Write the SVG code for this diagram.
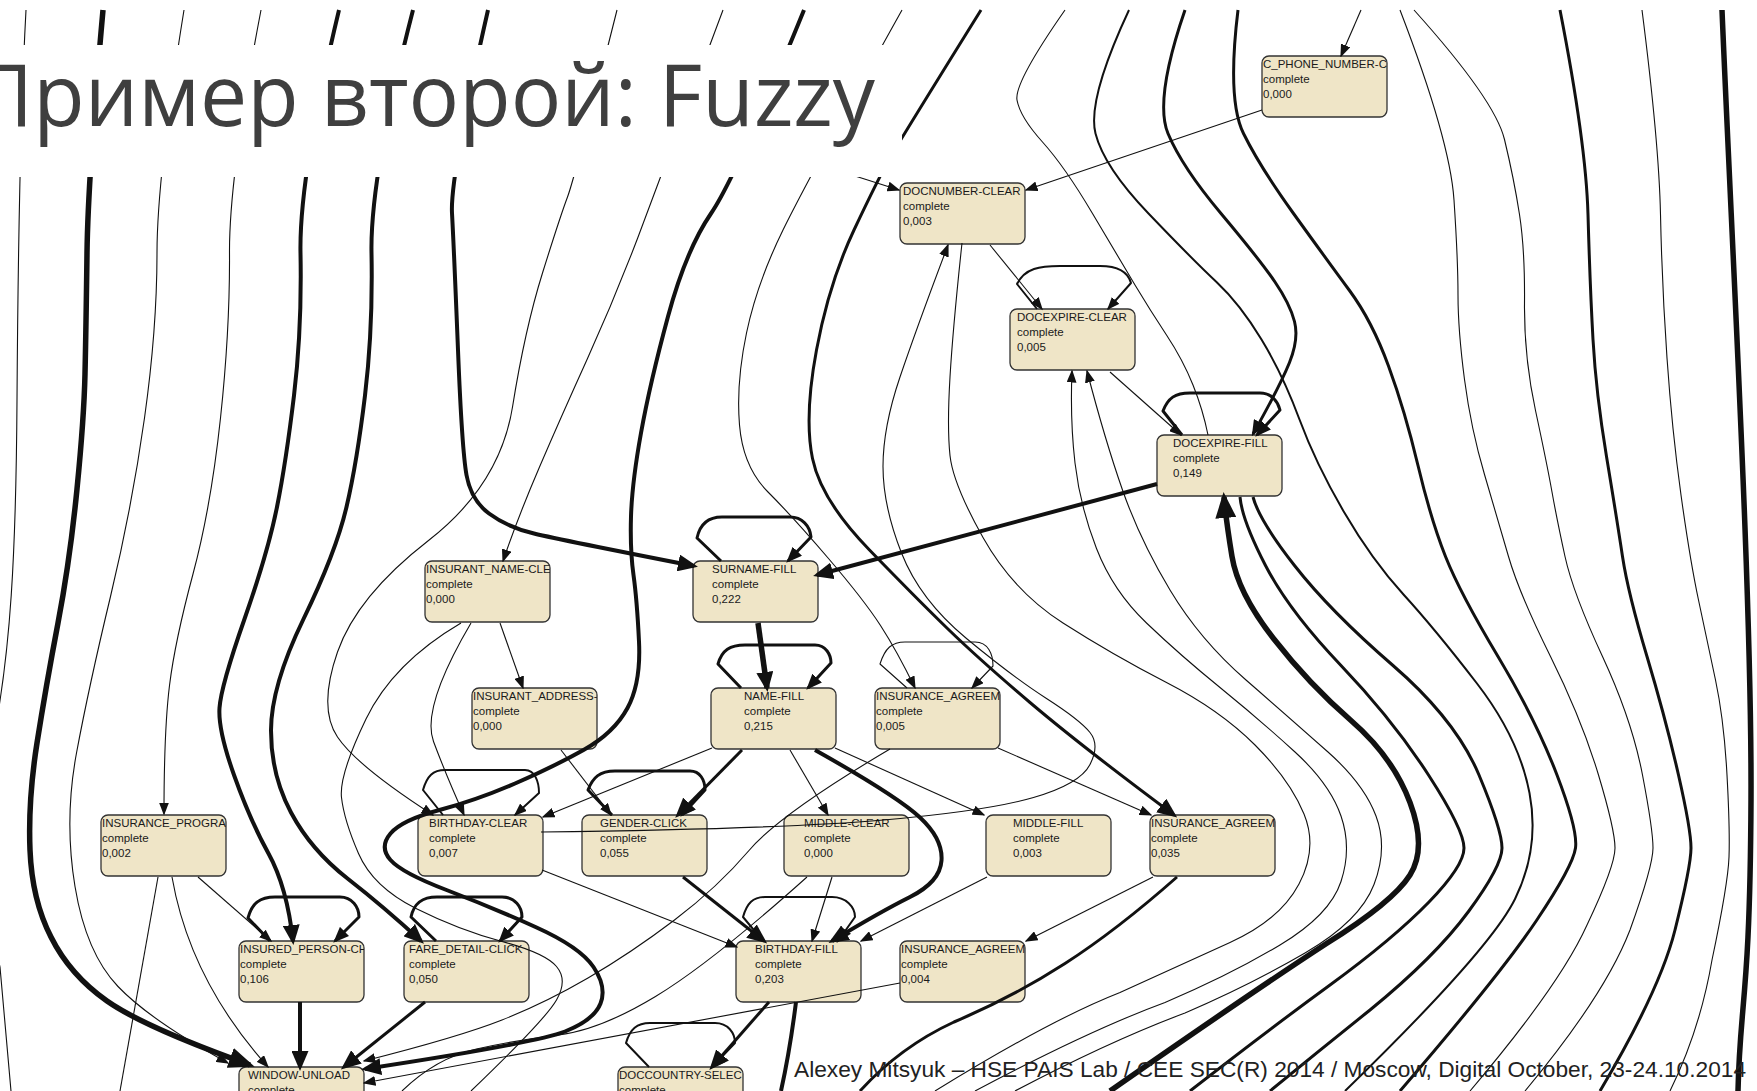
<svg xmlns="http://www.w3.org/2000/svg" width="1757" height="1091" viewBox="0 0 1757 1091">
<style>
  .node rect{fill:#efe5c7;stroke:#333;stroke-width:1.3}
  .node text{font-family:"Liberation Sans",Arial,sans-serif;font-size:11.5px;fill:#1a1a1a}
  .e{fill:none;stroke:#111;stroke-linejoin:round;stroke-linecap:butt}
  .w1{stroke-width:1.1}
  .w2{stroke-width:2}
  .w3{stroke-width:3}
  .w4{stroke-width:4}
  .w5{stroke-width:5.5}
  .s{marker-end:url(#a1)}
  .m{marker-end:url(#a2)}
  .l{marker-end:url(#a3)}
  .x{marker-end:url(#a4)}
  .title{font-family:"Open Sans","Liberation Sans",sans-serif;font-size:86px;fill:#3f3f3f}
  .foot{font-family:"Liberation Sans",Arial,sans-serif;font-size:22px;fill:#222}
</style>
<defs>
  <marker id="a1" markerUnits="userSpaceOnUse" markerWidth="13" markerHeight="10" refX="11.5" refY="5" orient="auto"><path d="M0,0 L13,5 L0,10 z" fill="#111"/></marker>
  <marker id="a2" markerUnits="userSpaceOnUse" markerWidth="16" markerHeight="13" refX="13.5" refY="6.5" orient="auto"><path d="M0,0 L16,6.5 L0,13 z" fill="#111"/></marker>
  <marker id="a3" markerUnits="userSpaceOnUse" markerWidth="20" markerHeight="17" refX="16" refY="8.5" orient="auto"><path d="M0,0 L20,8.5 L0,17 z" fill="#111"/></marker>
  <marker id="a4" markerUnits="userSpaceOnUse" markerWidth="26" markerHeight="21" refX="21" refY="10.5" orient="auto"><path d="M0,0 L26,10.5 L0,21 z" fill="#111"/></marker>
  <clipPath id="nodeclip"><rect x="0" y="0" width="125" height="61" rx="7"/></clipPath>
</defs>

<rect x="0" y="0" width="1757" height="1091" fill="#fff"/>

<!-- activity nodes -->
<g id="nodes">
  <g id="n-cpn" class="node" transform="translate(1262,56)"><rect width="125" height="61" rx="7"/><g clip-path="url(#nodeclip)"><text x="1" y="12">C_PHONE_NUMBER-C</text><text x="1" y="27">complete</text><text x="1" y="42">0,000</text></g></g>
  <g id="n-docnumber-clear" class="node" transform="translate(900,183)"><rect width="125" height="61" rx="7"/><g clip-path="url(#nodeclip)"><text x="3" y="12">DOCNUMBER-CLEAR</text><text x="3" y="27">complete</text><text x="3" y="42">0,003</text></g></g>
  <g id="n-docexpire-clear" class="node" transform="translate(1010,309)"><rect width="125" height="61" rx="7"/><g clip-path="url(#nodeclip)"><text x="7" y="12">DOCEXPIRE-CLEAR</text><text x="7" y="27">complete</text><text x="7" y="42">0,005</text></g></g>
  <g id="n-docexpire-fill" class="node" transform="translate(1157,435)"><rect width="125" height="61" rx="7"/><g clip-path="url(#nodeclip)"><text x="16" y="12">DOCEXPIRE-FILL</text><text x="16" y="27">complete</text><text x="16" y="42">0,149</text></g></g>
  <g id="n-insurant-name" class="node" transform="translate(425,561)"><rect width="125" height="61" rx="7"/><g clip-path="url(#nodeclip)"><text x="1" y="12">INSURANT_NAME-CLE</text><text x="1" y="27">complete</text><text x="1" y="42">0,000</text></g></g>
  <g id="n-surname-fill" class="node" transform="translate(693,561)"><rect width="125" height="61" rx="7"/><g clip-path="url(#nodeclip)"><text x="19" y="12">SURNAME-FILL</text><text x="19" y="27">complete</text><text x="19" y="42">0,222</text></g></g>
  <g id="n-insurant-address" class="node" transform="translate(472,688)"><rect width="125" height="61" rx="7"/><g clip-path="url(#nodeclip)"><text x="1" y="12">INSURANT_ADDRESS-</text><text x="1" y="27">complete</text><text x="1" y="42">0,000</text></g></g>
  <g id="n-name-fill" class="node" transform="translate(711,688)"><rect width="125" height="61" rx="7"/><g clip-path="url(#nodeclip)"><text x="33" y="12">NAME-FILL</text><text x="33" y="27">complete</text><text x="33" y="42">0,215</text></g></g>
  <g id="n-agreem-005" class="node" transform="translate(875,688)"><rect width="125" height="61" rx="7"/><g clip-path="url(#nodeclip)"><text x="1" y="12">INSURANCE_AGREEM</text><text x="1" y="27">complete</text><text x="1" y="42">0,005</text></g></g>
  <g id="n-insurance-progra" class="node" transform="translate(101,815)"><rect width="125" height="61" rx="7"/><g clip-path="url(#nodeclip)"><text x="1" y="12">INSURANCE_PROGRA</text><text x="1" y="27">complete</text><text x="1" y="42">0,002</text></g></g>
  <g id="n-birthday-clear" class="node" transform="translate(418,815)"><rect width="125" height="61" rx="7"/><g clip-path="url(#nodeclip)"><text x="11" y="12">BIRTHDAY-CLEAR</text><text x="11" y="27">complete</text><text x="11" y="42">0,007</text></g></g>
  <g id="n-gender-click" class="node" transform="translate(582,815)"><rect width="125" height="61" rx="7"/><g clip-path="url(#nodeclip)"><text x="18" y="12">GENDER-CLICK</text><text x="18" y="27">complete</text><text x="18" y="42">0,055</text></g></g>
  <g id="n-middle-clear" class="node" transform="translate(784,815)"><rect width="125" height="61" rx="7"/><g clip-path="url(#nodeclip)"><text x="20" y="12">MIDDLE-CLEAR</text><text x="20" y="27">complete</text><text x="20" y="42">0,000</text></g></g>
  <g id="n-middle-fill" class="node" transform="translate(986,815)"><rect width="125" height="61" rx="7"/><g clip-path="url(#nodeclip)"><text x="27" y="12">MIDDLE-FILL</text><text x="27" y="27">complete</text><text x="27" y="42">0,003</text></g></g>
  <g id="n-agreem-035" class="node" transform="translate(1150,815)"><rect width="125" height="61" rx="7"/><g clip-path="url(#nodeclip)"><text x="1" y="12">INSURANCE_AGREEM</text><text x="1" y="27">complete</text><text x="1" y="42">0,035</text></g></g>
  <g id="n-insured-person" class="node" transform="translate(239,941)"><rect width="125" height="61" rx="7"/><g clip-path="url(#nodeclip)"><text x="1" y="12">INSURED_PERSON-CH</text><text x="1" y="27">complete</text><text x="1" y="42">0,106</text></g></g>
  <g id="n-fare-detail" class="node" transform="translate(404,941)"><rect width="125" height="61" rx="7"/><g clip-path="url(#nodeclip)"><text x="5" y="12">FARE_DETAIL-CLICK</text><text x="5" y="27">complete</text><text x="5" y="42">0,050</text></g></g>
  <g id="n-birthday-fill" class="node" transform="translate(736,941)"><rect width="125" height="61" rx="7"/><g clip-path="url(#nodeclip)"><text x="19" y="12">BIRTHDAY-FILL</text><text x="19" y="27">complete</text><text x="19" y="42">0,203</text></g></g>
  <g id="n-agreem-004" class="node" transform="translate(900,941)"><rect width="125" height="61" rx="7"/><g clip-path="url(#nodeclip)"><text x="1" y="12">INSURANCE_AGREEM</text><text x="1" y="27">complete</text><text x="1" y="42">0,004</text></g></g>
  <g id="n-window-unload" class="node" transform="translate(239,1067)"><rect width="125" height="61" rx="7"/><g clip-path="url(#nodeclip)"><text x="9" y="12">WINDOW-UNLOAD</text><text x="9" y="27">complete</text></g></g>
  <g id="n-doccountry" class="node" transform="translate(618,1067)"><rect width="125" height="61" rx="7"/><g clip-path="url(#nodeclip)"><text x="1" y="12">DOCCOUNTRY-SELEC</text><text x="1" y="27">complete</text></g></g>
</g>

<!-- transitions -->
<g id="connectors">
  <!-- long edges entering from the top -->
  <path class="e w1" d="M26,10 C20,120 18,250 17,400 C16,560 10,650 -5,730 C-20,830 -15,900 0,967 L11,1091"/>
  <path class="e w5 x" d="M103,10 Q88,177 87,253 Q86,330 85,374 Q84,418 77,489 Q70,560 58,623 Q46,686 37,743 Q28,800 30,850 Q32,900 51,937 Q70,975 107,1001 Q144,1027 250,1065"/>
  <path class="e w1 s" d="M184,10 Q157,177 157,253 Q157,329 144.5,418 Q132,507 110.5,596.5 Q89,686 76.5,753 Q64,820 75,886.5 Q86,953 118,986.5 Q150,1020 228,1063"/>
  <path class="e w1 s" d="M261,10 Q229,177 229.5,253 Q230,329 220.5,418 Q211,507 193,574 Q175,641 169.5,685.5 Q164,730 164,814"/>
  <path class="e w4 l" d="M339,10 Q299,177 300.5,253 Q302,329 294,395.5 Q286,462 277,507 Q268,552 244.5,619 Q221,686 219.5,708 Q218,730 234,775 Q250,820 268.5,853.5 Q287,887 293,941"/>
  <path class="e w4 l" d="M413,10 Q370,177 371.5,253 Q373,329 365,395.5 Q357,462 346.5,507 Q336,552 303.5,619 Q271,686 271,730.5 Q271,775 291,812.5 Q311,850 347.5,878.5 Q384,907 421,941"/>
  <path class="e w4 l" d="M488,10 Q450,177 452,213 Q454,250 458,350 Q462,450 466.5,475 Q471,500 489,513.5 Q507,527 534,533.5 Q561,540 694,566"/>
  <path class="e w1 s" d="M617,10 Q575,177 567.5,197 Q560,217 542.5,273 Q525,329 512.5,407 Q500,485 428.5,540.5 Q357,596 337.5,652 Q318,708 337.5,737 Q357,766 433,815"/>
  <path class="e w1 s" d="M723,10 Q661,177 637.5,238.5 Q614,300 587.5,358.5 Q561,417 539.5,467 Q518,517 503,561"/>
  <path class="e w4 l" d="M804,10 Q736,177 711,213.5 Q686,250 668,316.5 Q650,383 641,433 Q632,483 631,516.5 Q630,550 633.5,575 Q637,600 639,641.5 Q641,683 627.5,708 Q614,733 583.5,750 Q553,767 515,783.5 Q477,800 439.5,810 Q402,820 390.5,833.5 Q379,847 390.5,860 Q402,873 446.5,890 Q491,907 535.5,927 Q580,947 593.5,967 Q607,987 600.5,1003.5 Q594,1020 565,1031.5 Q536,1043 365,1069"/>
  <path class="e w1 s" d="M902,10 Q809,177 783,230 Q757,283 746.5,333 Q736,383 739.5,425 Q743,467 768,492 Q793,517 828.5,558.5 Q864,600 880.5,625.5 Q897,651 915,688"/>
  <path class="e w3 l" d="M981,10 Q902,137 890.5,157 Q879,177 854,230 Q829,283 816.5,350 Q804,417 812.5,458.5 Q821,500 869.5,550 Q918,600 949,630 Q980,660 1030,702.5 Q1080,745 1174,815"/>
  <path class="e w1 s" d="M830,168 L899,190"/>
  <path class="e w1" d="M1208,435 Q1203,410 1193,385 Q1183,360 1166.5,335 Q1150,310 1135,285 Q1120,260 1092.5,213.5 Q1065,167 1042.5,142 Q1020,117 1017,100 Q1014,83 1065,10"/>
  <path class="e w1 s" d="M1361,10 L1341,56"/>
  <path class="e w1 s" d="M1262,110 L1026,190"/>

  <!-- right-hand bundle -->
  <path class="e w2" d="M1129,10 Q1087,100 1095.5,133.5 Q1104,167 1148.5,213.5 Q1193,260 1216.5,282 Q1240,304 1261.5,339.5 Q1283,375 1299.5,419.5 Q1316,464 1344,512 Q1372,560 1403.5,594.5 Q1435,629 1477,683.5 Q1519,738 1529.5,793 Q1540,848 1515,899 Q1490,950 1345,1091"/>
  <path class="e w3 m" d="M1185,10 Q1154,100 1168,133.5 Q1182,167 1221,213.5 Q1260,260 1275,282 Q1290,304 1294.5,321.5 Q1299,339 1289.5,362.5 Q1280,386 1253,434"/>
  <path class="e w3" d="M1238,10 Q1227,100 1243.5,133.5 Q1260,167 1293.5,213.5 Q1327,260 1349.5,290.5 Q1372,321 1388.5,366 Q1405,411 1418,465.5 Q1431,520 1445.5,556.5 Q1460,593 1498,656.5 Q1536,720 1557,775 Q1578,830 1575.5,848 Q1573,866 1536.5,920.5 Q1500,975 1400,1091"/>
  <path class="e w1" d="M1400,10 Q1450,140 1454,200 Q1458,260 1458,295 Q1458,330 1464.5,379.5 Q1471,429 1484.5,474.5 Q1498,520 1508.5,556.5 Q1519,593 1550.5,656.5 Q1582,720 1598.5,775 Q1615,830 1615,848 Q1615,866 1587,925 Q1560,985 1470,1091"/>
  <path class="e w1" d="M1414,10 Q1495,100 1504.5,139.5 Q1514,179 1519.5,214.5 Q1525,250 1524.5,303.5 Q1524,357 1535.5,410.5 Q1547,464 1552,492 Q1557,520 1565,556.5 Q1573,593 1602.5,656.5 Q1632,720 1642.5,775 Q1653,830 1653,848 Q1653,866 1630,930 Q1605,995 1525,1091"/>
  <path class="e w3" d="M1560,10 Q1586,143 1588,214.5 Q1590,286 1593,339.5 Q1596,393 1606.5,456.5 Q1617,520 1622.5,556.5 Q1628,593 1647,656.5 Q1666,720 1678.5,775 Q1691,830 1691,848 Q1691,866 1675,930 Q1660,990 1600,1091"/>
  <path class="e w1" d="M1642,10 Q1659,143 1660.5,214.5 Q1662,286 1667,358 Q1672,430 1681,495 Q1690,560 1698.5,600 Q1707,640 1715.5,680 Q1724,720 1727,775 Q1730,830 1729,857 Q1728,884 1712,960 Q1700,1030 1670,1091"/>
  <path class="e w5" d="M1722,10 C1732,250 1752,600 1751,800 S1740,1000 1738,1091"/>
  <path class="e w5 x" d="M1110,1091 Q1255,990 1326.5,943.5 Q1393,902 1410,875 Q1427,848 1410,802.5 Q1393,757 1351,720.5 Q1309,684 1273.5,638.5 Q1238,593 1232,556.5 Q1226,520 1224,497"/>
  <path class="e w3" d="M1240,497 Q1242,520 1265.5,565.5 Q1289,611 1341,665.5 Q1393,720 1428.5,775 Q1464,830 1464,848 Q1464,866 1428.5,902.5 Q1393,939 1330,985 Q1267,1031 1190,1091"/>
  <path class="e w3" d="M1253,497 Q1259,520 1294.5,565.5 Q1330,611 1393,665.5 Q1456,720 1479,775 Q1502,830 1502,848 Q1502,866 1468.5,911.5 Q1435,957 1370,1010 Q1320,1050 1270,1091"/>
  <path class="e w1" d="M962,243 Q953,327 950,377 Q947,427 950,455.5 Q953,484 983,537.5 Q1013,591 1063,623 Q1113,655 1166.5,682.5 Q1220,710 1255,745 Q1290,780 1304,814 Q1318,848 1299,884 Q1280,920 1230,942.5 Q1180,965 1120,992.5 Q1050,1020 935,1091"/>
  <path class="e w1 s" d="M975,1091 Q1090,1030 1165,1002.5 Q1230,975 1280,945 Q1330,915 1341,881.5 Q1352,848 1341,816 Q1330,784 1295,752 Q1260,720 1220,687.5 Q1180,655 1146.5,623 Q1113,591 1096.5,548.5 Q1080,506 1075,463 Q1070,420 1072,371"/>
  <path class="e w1 s" d="M1015,1091 Q1110,1041 1185,1013 Q1250,985 1305,953 Q1360,921 1374,884.5 Q1388,848 1376,816 Q1364,784 1328,752 Q1292,720 1246,680 Q1200,640 1170,590 Q1140,540 1122.5,490 Q1105,440 1087,371"/>
  <path class="e w1 s" d="M541,832 Q780,829 883.5,820 Q987,811 1033.5,797.5 Q1080,784 1090,764.5 Q1100,745 1090,732.5 Q1080,720 1046.5,698.5 Q1013,677 966.5,638.5 Q920,600 901.5,553 Q883,506 883,466.5 Q883,427 900,377 Q917,327 948,245"/>

  <!-- document block -->
  <path class="e w1 s" d="M990,245 L1042,309"/>
  <path class="e w2 s" d="M1037,309 L1017,284 C1025,268 1040,266 1060,266 L1100,266 C1118,266 1128,272 1131,283 L1108,309"/>
  <path class="e w1 s" d="M1110,372 L1181,435"/>
  <path class="e w3 m" d="M1182,435 L1163,411 C1168,398 1175,393 1190,393 L1260,393 C1272,393 1278,402 1280,410 L1257,435"/>
  <path class="e w4 l" d="M1157,484 L817,575"/>

  <!-- personal data block -->
  <path class="e w3 m" d="M721,561 L697,538 C700,524 708,517 722,517 L790,517 C802,517 810,526 811,537 L788,561"/>
  <path class="e w5 l" d="M758,623 L767,688"/>
  <path class="e w3 m" d="M741,688 L718,664 C722,650 730,645 745,645 L815,645 C826,645 831,655 831,663 L808,688"/>
  <path class="e w1 s" d="M500,623 L523,688"/>
  <path class="e w1 s" d="M907,688 L880,664 C885,648 892,642 905,642 L975,642 C988,642 993,654 993,666 L972,688"/>
  <path class="e w1 s" d="M790,750 L828,815"/>
  <path class="e w1 s" d="M835,748 L984,815"/>
  <path class="e w1 s" d="M998,748 L1151,815"/>
  <path class="e w4 l" d="M815,750 Q897,796 920,817.5 Q943,839 941.5,860.5 Q940,882 910,897 Q880,912 832,941"/>
  <path class="e w3 l" d="M742,750 L678,815"/>
  <path class="e w1 s" d="M712,748 L543,817"/>
  <path class="e w1 s" d="M561,750 L611,815"/>
  <path class="e w3 m" d="M612,815 L588,790 C593,777 600,771 615,771 L690,771 C700,771 705,780 705,790 L682,815"/>
  <path class="e w2 s" d="M443,815 L423,790 C427,776 433,770 445,770 L525,770 C535,770 539,782 539,793 L515,815"/>
  <path class="e w1 s" d="M471,623 Q421,708 433.5,741.5 Q446,775 464,815"/>
  <path class="e w1" d="M461,623 Q393,663 366,719 Q339,775 341.5,797.5 Q344,820 358.5,853.5 Q373,887 416,908.5 Q459,930 502,941.5 Q545,953 556.5,966.5 Q568,980 556.5,1000 Q545,1020 471,1091"/>

  <!-- lower block -->
  <path class="e w1 s" d="M198,877 L271,941"/>
  <path class="e w1 s" d="M172,877 Q190,980 268,1067"/>
  <path class="e w1" d="M158,877 L120,1091"/>
  <path class="e w3 m" d="M270,941 L248,918 C252,903 260,897 275,897 L340,897 C352,897 359,907 359,917 L335,941"/>
  <path class="e w3 m" d="M436,941 L411,917 C414,903 422,897 437,897 L502,897 C515,897 522,907 522,917 L500,941"/>
  <path class="e w4 l" d="M300,1002 L300,1067"/>
  <path class="e w3 l" d="M425,1002 L344,1067"/>
  <path class="e w1 s" d="M900,983 L364,1083"/>
  <path class="e w1 s" d="M890,749 Q780,814 749,850.5 Q718,887 674.5,920 Q631,953 588,978 Q545,1003 502,1020 Q459,1037 364,1061"/>
  <path class="e w1" d="M807,877 Q711,963 655.5,996.5 Q600,1030 558.5,1035 Q517,1040 476.5,1049 Q436,1058 402,1091"/>
  <path class="e w1 s" d="M542,870 L737,947"/>
  <path class="e w3 l" d="M683,877 L764,941"/>
  <path class="e w1 s" d="M832,877 L812,941"/>
  <path class="e w1 s" d="M987,877 L861,941"/>
  <path class="e w2 m" d="M763,941 L743,917 C747,903 753,897 765,897 L832,897 C846,897 855,907 855,917 L838,941"/>
  <path class="e w1 s" d="M1153,877 L1026,941"/>
  <path class="e w3" d="M1177,877 Q1117,930 1065,963.5 Q1013,997 954,1022 Q900,1047 860,1091"/>
  <path class="e w3 l" d="M769,1002 L712,1067"/>
  <path class="e w4" d="M796,1002 Q790,1050 781,1091"/>
  <path class="e w2 m" d="M649,1067 L626,1043 C630,1029 637,1023 650,1023 L715,1023 C728,1023 735,1033 735,1043 L712,1067"/>
</g>

<!-- slide title on its own white panel -->
<g id="title">
  <rect x="0" y="45" width="902" height="132" fill="#fff"/>
  <text class="title" x="-28" y="126" textLength="903" lengthAdjust="spacingAndGlyphs">Пример второй: Fuzzy</text>
</g>

<!-- slide footer -->
<text id="footer" class="foot" x="794" y="1077" textLength="952" lengthAdjust="spacingAndGlyphs">Alexey Mitsyuk – HSE PAIS Lab / CEE SEC(R) 2014 / Moscow, Digital October, 23-24.10.2014</text>
</svg>
